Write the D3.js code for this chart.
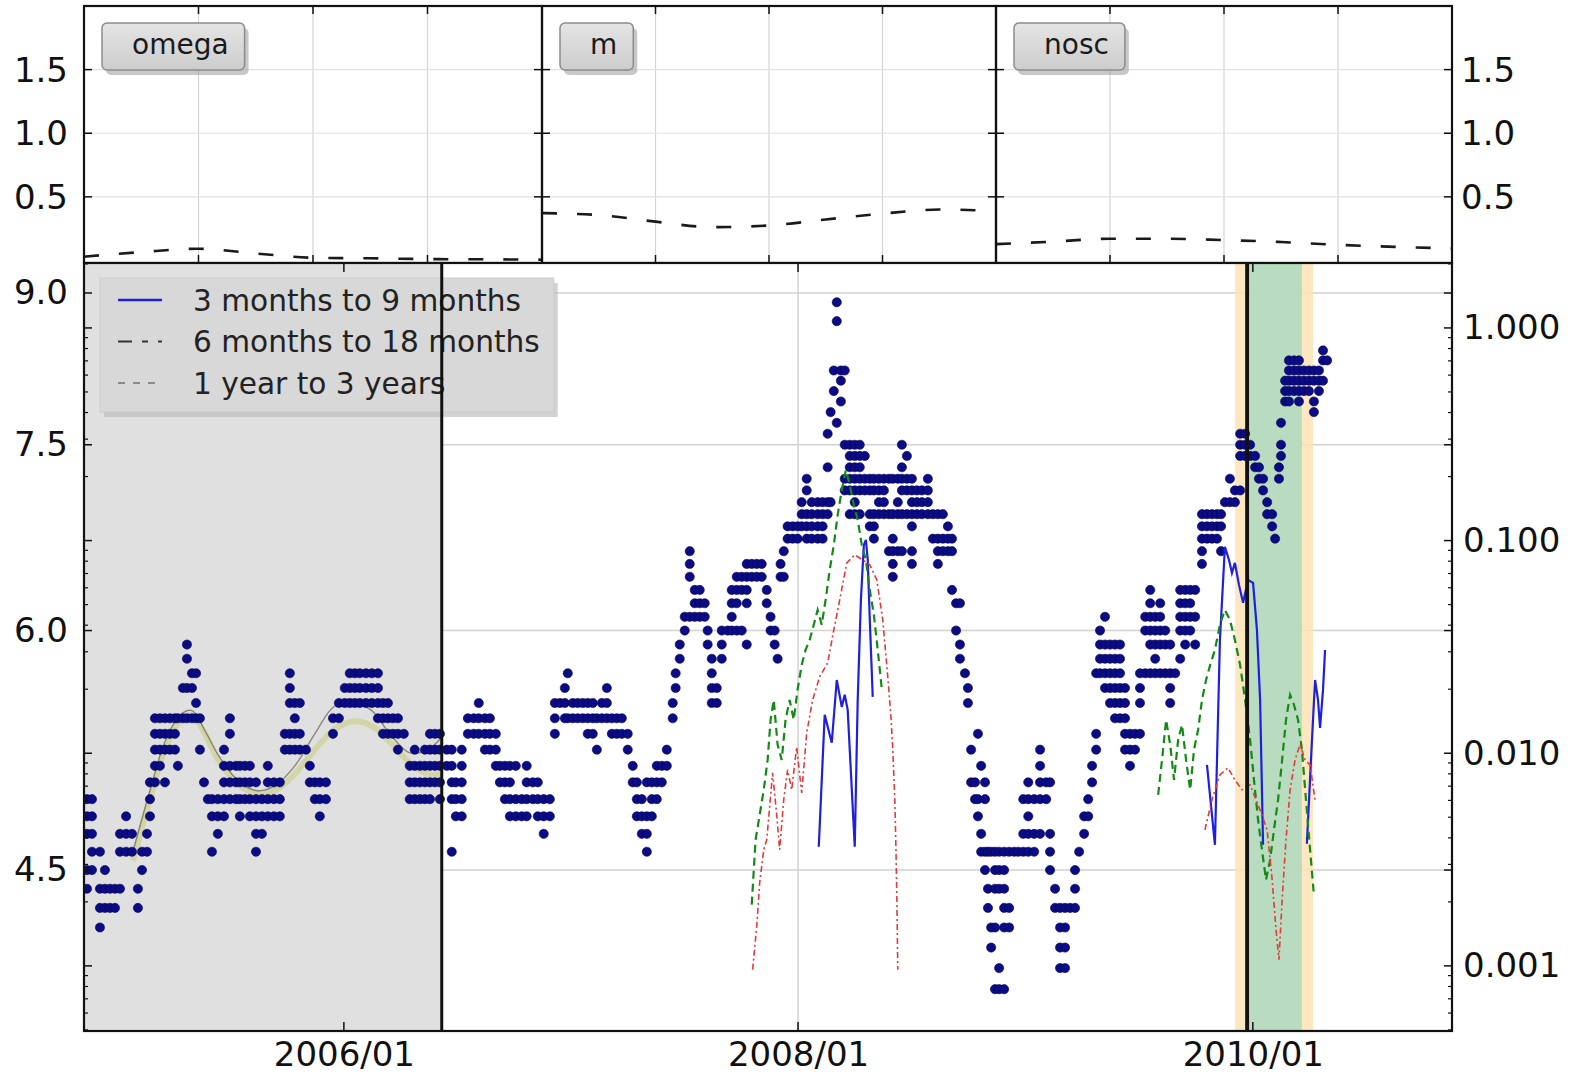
<!DOCTYPE html>
<html>
<head>
<meta charset="utf-8">
<script src="https://cdn.jsdelivr.net/npm/d3@7"></script>
<style>
  html, body { margin: 0; padding: 0; background: #ffffff; }
  svg { display: block; font-family: "DejaVu Sans", "Liberation Sans", sans-serif; }
</style>
</head>
<body>
<svg id="chart" width="1573" height="1077"></svg>
<script>
// ---------------- data ----------------
// small parameter panels (value sampled at nine even steps across each panel)
const panelNames = ["omega", "m", "nosc"];
const omegaValues = [0.030, 0.066, 0.092, 0.055, 0.021, 0.017, 0.011, 0.009, 0.006];
const mValues     = [0.372, 0.357, 0.305, 0.262, 0.275, 0.322, 0.368, 0.400, 0.390];
const noscValues  = [0.128, 0.148, 0.171, 0.171, 0.160, 0.145, 0.123, 0.107, 0.094];
const panelTicks  = [0.5, 1.0, 1.5];

// main panel axes
const xTickLabels = ["2006/01", "2008/01", "2010/01"];
const leftTicks   = [4.5, 6.0, 7.5, 9.0];
const rightTicks  = [0.001, 0.01, 0.1, 1.0];
const legendLabels = ["3 months to 9 months", "6 months to 18 months", "1 year to 3 years"];

// observations: [decimal year, values recorded around that time]
const dotColumns = [
  [2004.869,[4.9,4.8,4.7,4.5,4.4]],[2004.891,[4.9,4.8,4.7,4.6,4.5]],[2004.926,[4.6,4.4,4.3,4.2]],
  [2004.948,[4.5,4.4,4.3]],[2004.970,[4.4,4.3]],[2004.992,[4.4,4.3]],[2005.014,[4.7,4.6,4.4]],
  [2005.041,[4.8,4.7,4.6]],[2005.067,[4.7,4.6]],[2005.093,[4.4,4.3]],[2005.111,[4.6,4.5]],
  [2005.133,[4.7,4.6]],[2005.146,[5.0,4.9,4.8]],[2005.168,[5.4,5.3,5.2,5.1,5.0]],
  [2005.190,[5.4,5.3,5.2,5.1]],[2005.212,[5.4,5.3,5.2,5.0]],[2005.234,[5.4,5.3,5.2]],
  [2005.256,[5.4,5.3,5.2]],[2005.269,[5.4,5.1]],[2005.291,[5.6,5.4]],[2005.309,[5.9,5.8,5.6,5.4]],
  [2005.331,[5.7,5.6,5.4]],[2005.349,[5.7,5.5,5.4]],[2005.366,[5.4,5.2]],[2005.384,[5.0]],
  [2005.401,[4.9]],[2005.419,[4.9,4.8,4.6]],[2005.445,[4.9,4.8,4.7]],[2005.472,[5.2,5.1,5.0,4.9,4.8]],
  [2005.498,[5.4,5.3,5.1,5.0,4.9]],[2005.525,[5.1,5.0,4.9]],[2005.542,[5.1,5.0,4.9,4.8]],
  [2005.564,[5.1,5.0,4.9]],[2005.586,[5.1,5.0,4.9,4.8]],[2005.613,[5.0,4.9,4.8,4.7,4.6]],
  [2005.639,[4.9,4.8,4.7]],[2005.665,[5.1,5.0,4.9,4.8]],[2005.692,[5.0,4.9,4.8]],
  [2005.718,[5.0,4.9,4.8]],[2005.740,[5.3,5.2]],[2005.762,[5.7,5.6,5.5,5.3,5.2]],
  [2005.784,[5.5,5.4,5.3,5.2]],[2005.806,[5.5,5.3,5.2]],[2005.833,[5.2]],[2005.850,[5.1,5.0]],
  [2005.872,[5.0,4.9]],[2005.894,[5.0,4.9,4.8]],[2005.921,[5.0,4.9]],[2005.952,[5.4,5.3]],
  [2005.978,[5.5,5.4]],[2006.004,[5.6,5.5]],[2006.026,[5.7,5.6,5.5]],[2006.048,[5.7,5.6,5.5]],
  [2006.070,[5.7,5.6,5.5]],[2006.097,[5.7,5.6,5.5]],[2006.123,[5.7,5.6,5.5]],
  [2006.150,[5.7,5.6,5.5,5.4]],[2006.172,[5.5,5.4,5.3]],[2006.194,[5.5,5.4,5.3]],
  [2006.216,[5.4,5.3]],[2006.238,[5.4,5.3,5.2]],[2006.264,[5.3]],[2006.290,[5.1,5.0,4.9]],
  [2006.312,[5.2,5.1,5.0,4.9]],[2006.335,[5.1,5.0,4.9]],[2006.357,[5.2,5.1,5.0,4.9]],
  [2006.379,[5.3,5.2,5.1,5.0,4.9]],[2006.401,[5.3,5.2,5.1,5.0]],[2006.423,[5.3,5.2,5.1,5.0,4.9]],
  [2006.453,[5.2,5.1]],[2006.475,[5.2,5.1,5.0,4.9,4.6]],[2006.493,[5.0,4.9,4.8]],
  [2006.519,[5.2,5.1,5.0,4.9,4.8]],[2006.546,[5.4,5.3]],[2006.572,[5.4,5.3]],
  [2006.594,[5.5,5.4,5.3]],[2006.621,[5.4,5.3,5.2]],[2006.643,[5.4,5.3,5.2]],
  [2006.669,[5.3,5.2,5.1]],[2006.687,[5.1,5.0]],[2006.709,[5.1,5.0,4.9]],
  [2006.731,[5.1,5.0,4.9,4.8]],[2006.757,[5.1,4.9,4.8]],[2006.783,[4.9,4.8]],
  [2006.805,[5.1,5.0,4.9,4.8]],[2006.832,[5.0,4.9]],[2006.854,[5.0,4.9,4.8]],
  [2006.880,[4.9,4.8,4.7]],[2006.907,[4.9,4.8]],[2006.929,[5.5,5.4,5.3]],[2006.951,[5.5]],
  [2006.973,[5.6,5.5,5.4]],[2006.986,[5.7,5.4]],[2007.008,[5.5,5.4]],[2007.030,[5.5,5.4]],
  [2007.052,[5.5,5.4]],[2007.074,[5.5,5.4,5.3]],[2007.096,[5.5,5.4,5.3]],[2007.114,[5.4,5.2]],
  [2007.136,[5.5,5.4]],[2007.158,[5.6,5.5,5.4]],[2007.180,[5.4,5.3]],[2007.202,[5.4,5.3]],
  [2007.224,[5.4,5.3]],[2007.250,[5.3,5.2]],[2007.272,[5.1,5.0]],[2007.290,[5.0,4.9,4.8]],
  [2007.312,[4.9,4.8,4.7]],[2007.334,[5.0,4.8,4.7,4.6]],[2007.356,[5.0,4.9,4.8]],
  [2007.378,[5.1,5.0,4.9]],[2007.400,[5.1,5.0]],[2007.422,[5.2,5.1]],[2007.448,[5.5,5.4]],
  [2007.461,[5.7,5.6]],[2007.479,[5.9,5.8]],[2007.501,[6.1,6.0]],[2007.523,[6.6,6.5,6.4,6.1]],
  [2007.545,[6.3,6.2,6.1]],[2007.567,[6.3,6.2,6.1]],[2007.589,[6.2,6.1]],[2007.602,[6.0,5.9]],
  [2007.620,[5.8,5.7,5.6,5.5]],[2007.642,[5.6,5.5]],[2007.664,[6.0,5.9,5.8]],[2007.690,[6.0]],
  [2007.708,[6.3,6.2,6.1,6.0]],[2007.730,[6.4,6.3,6.2,6.0]],[2007.752,[6.4,6.3,6.0]],
  [2007.774,[6.5,6.4,6.3,6.2,5.9]],[2007.796,[6.5,6.4]],[2007.818,[6.5,6.4]],[2007.840,[6.5,6.4]],
  [2007.862,[6.3,6.2]],[2007.879,[6.1,6.0]],[2007.897,[6.0,5.9]],[2007.910,[5.8]],
  [2007.923,[6.5,6.4]],[2007.937,[6.6,6.4]],[2007.954,[6.8,6.7]],[2007.976,[6.8,6.7]],
  [2007.998,[6.8,6.7]],[2008.016,[7.0,6.9,6.8]],[2008.038,[7.2,7.1,6.9,6.8,6.7]],
  [2008.060,[7.0,6.9,6.8,6.7]],[2008.086,[7.0,6.9,6.8,6.7]],[2008.108,[7.0,6.9,6.8,6.7]],
  [2008.130,[7.6,7.3,7.0,6.9]],[2008.143,[7.8,7.0]],[2008.157,[8.2,8.0]],[2008.170,[8.9,8.7,7.7]],
  [2008.188,[8.2,8.1,7.9]],[2008.205,[8.2,7.5,7.2,7.1]],[2008.227,[7.5,7.4,7.3,7.2,7.1,6.9]],
  [2008.249,[7.5,7.4,7.3,7.2,7.1,7.0,6.9]],[2008.271,[7.5,7.4,7.3,7.2,7.1,6.9]],
  [2008.293,[7.4,7.2,7.1]],[2008.315,[7.2,7.1,6.9,6.8]],[2008.333,[7.2,7.1,6.9,6.8,6.7]],
  [2008.355,[7.2,7.1,7.0,6.9]],[2008.377,[7.2,7.1,7.0,6.9]],[2008.399,[7.2,6.9,6.6]],
  [2008.416,[7.2,6.9,6.7,6.6,6.5,6.4]],[2008.438,[7.2,7.0,6.9,6.6]],
  [2008.456,[7.5,7.3,7.2,7.1,6.9,6.6]],[2008.478,[7.4,7.2,7.1,6.9]],
  [2008.500,[7.2,7.1,7.0,6.9,6.8,6.6,6.5]],[2008.522,[7.1,7.0,6.9]],[2008.544,[7.1,7.0,6.9]],
  [2008.570,[7.2,7.1,7.0,6.9]],[2008.592,[6.9,6.7]],[2008.614,[6.9,6.7,6.6,6.5]],
  [2008.636,[6.9,6.7,6.6]],[2008.658,[6.8,6.7,6.6]],[2008.676,[6.7,6.6,6.3]],[2008.694,[6.2,6.0]],
  [2008.711,[6.2,5.9,5.8]],[2008.733,[5.7]],[2008.746,[5.6,5.5]],[2008.760,[5.2,5.0]],
  [2008.777,[5.0,4.9]],[2008.790,[5.3,4.9,4.8]],[2008.804,[5.1,4.7,4.6]],[2008.821,[5.0,4.9,4.6,4.5]],
  [2008.834,[4.6,4.4,4.3]],[2008.848,[4.6,4.2,4.1]],[2008.865,[4.6,4.5,4.4,4.2,3.9]],
  [2008.883,[4.6,4.5,4.4,4.0,3.9]],[2008.905,[4.6,4.5,4.4,4.3,4.2,3.9]],[2008.927,[4.6,4.3,4.2]],
  [2008.949,[4.6]],[2008.967,[4.6]],[2008.989,[4.9,4.7,4.6]],[2009.011,[5.0,4.9,4.8,4.7,4.6]],
  [2009.037,[4.9,4.7,4.6]],[2009.063,[5.2,5.1,5.0,4.9,4.7]],[2009.090,[5.0,4.9]],
  [2009.107,[5.0,4.7,4.6,4.5]],[2009.129,[4.4,4.3]],[2009.151,[4.3,4.2,4.1,4.0]],
  [2009.173,[4.3,4.2,4.1,4.0]],[2009.195,[4.3]],[2009.217,[4.5,4.4,4.3]],[2009.235,[4.6]],
  [2009.257,[4.8,4.7]],[2009.275,[4.9,4.8]],[2009.292,[5.1,5.0]],[2009.310,[5.7,5.3,5.2]],
  [2009.327,[6.0,5.9,5.8,5.7]],[2009.349,[6.1,5.9,5.8,5.7,5.6]],[2009.371,[5.9,5.8,5.7,5.6,5.5]],
  [2009.393,[5.9,5.8,5.7,5.6,5.5,5.4]],[2009.415,[5.9,5.8,5.7,5.6,5.5,5.4]],
  [2009.437,[5.6,5.5,5.4,5.3,5.2]],[2009.459,[5.3,5.2,5.1]],[2009.481,[5.3,5.2]],
  [2009.503,[5.7,5.6,5.5,5.3]],[2009.526,[6.1,6.0,5.7]],[2009.548,[6.3,6.2,6.1,6.0,5.9,5.7]],
  [2009.570,[6.1,6.0,5.9,5.8,5.7]],[2009.592,[6.2,6.1,6.0,5.9,5.7]],[2009.614,[6.0,5.9,5.7]],
  [2009.636,[5.9,5.7,5.6,5.5]],[2009.658,[5.7]],[2009.680,[6.3,6.2,6.1,6.0,5.8]],
  [2009.702,[6.3,6.2,6.1,6.0,5.9]],[2009.724,[6.3,6.2,6.1,6.0]],[2009.746,[6.3,6.1,5.9]],
  [2009.776,[6.9,6.8,6.7,6.6,6.5]],[2009.798,[6.9,6.8,6.7]],[2009.820,[6.9,6.8,6.7]],
  [2009.842,[6.9,6.8,6.7]],[2009.860,[6.9,6.8,6.6]],[2009.877,[7.0]],[2009.899,[7.2,7.0]],
  [2009.921,[7.1,7.0]],[2009.944,[7.6,7.5,7.4,7.1]],[2009.966,[7.6,7.5,7.4]],[2009.988,[7.5,7.4]],
  [2010.010,[7.4,7.3]],[2010.027,[7.3,7.2]],[2010.045,[7.2,7.1]],[2010.063,[7.0,6.9]],
  [2010.085,[6.9,6.8]],[2010.098,[6.7]],[2010.115,[7.3,7.2]],[2010.124,[7.7,7.5,7.4]],
  [2010.142,[8.1,8.0,7.9]],[2010.159,[8.3,8.2,8.1,8.0,7.9]],[2010.181,[8.3,8.2,8.1,8.0]],
  [2010.203,[8.3,8.2,8.1,8.0,7.9]],[2010.225,[8.2,8.1,8.0]],[2010.247,[8.2,8.1,8.0]],
  [2010.269,[8.2,8.1,7.9,7.8]],[2010.291,[8.2,8.1,8.0]],[2010.309,[8.4,8.3,8.1]],[2010.327,[8.3]]
];

// smoothed trend over the reference period (left scale)
const trendYears = [2005.071,2005.146,2005.212,2005.278,2005.331,2005.388,2005.454,2005.542,2005.621,
  2005.696,2005.784,2005.872,2005.960,2006.048,2006.123,2006.202,2006.290,2006.370,2006.431];
const trendWide = [4.55,4.90,5.20,5.38,5.42,5.30,5.12,4.98,4.93,4.95,5.05,5.20,5.33,5.38,5.35,5.25,5.12,5.05,5.05];
const trendThin = [4.60,4.95,5.25,5.42,5.45,5.32,5.15,5.00,4.95,4.98,5.10,5.30,5.48,5.50,5.45,5.30,5.18,5.20,5.28];

// band power, 3 to 9 months (right scale), separate runs
const shortBand = [
  [[2008.091,0.00363],[2008.117,0.01515],[2008.148,0.0112],[2008.170,0.0221],[2008.192,0.01652],
   [2008.205,0.01882],[2008.218,0.0160],[2008.249,0.00363],[2008.262,0.0178],[2008.276,0.0526],
   [2008.289,0.0954],[2008.298,0.1008],[2008.306,0.0811],[2008.315,0.0424],[2008.328,0.0184]],
  [[2009.798,0.00882],[2009.833,0.00371],[2009.855,0.0341],[2009.877,0.0934],[2009.895,0.0811],
   [2009.908,0.0705],[2009.921,0.0785],[2009.939,0.0619],[2009.957,0.0510],[2009.979,0.0653],
   [2010.001,0.0633],[2010.018,0.0380],[2010.032,0.0178],[2010.045,0.00371]],
  [[2010.238,0.00375],[2010.256,0.0093],[2010.274,0.0221],[2010.287,0.0178],[2010.296,0.01317],
   [2010.309,0.0199],[2010.318,0.0306]]
];
// band power, 6 to 18 months
const midBand = [
  [[2007.796,0.00194],[2007.813,0.00392],[2007.831,0.00513],[2007.849,0.00673],[2007.866,0.0093],
   [2007.879,0.01436],[2007.893,0.0178],[2007.910,0.01095],[2007.928,0.0093],[2007.945,0.01436],
   [2007.963,0.0178],[2007.981,0.01436],[2007.998,0.0199],[2008.016,0.026],[2008.033,0.0306],
   [2008.051,0.0341],[2008.069,0.0402],[2008.086,0.0472],[2008.104,0.0402],[2008.121,0.0526],
   [2008.139,0.0728],[2008.157,0.0954],[2008.174,0.132],[2008.192,0.173],[2008.210,0.215],
   [2008.227,0.183],[2008.245,0.147],[2008.262,0.125],[2008.280,0.0954],[2008.298,0.0811],
   [2008.315,0.0587],[2008.333,0.0447],[2008.350,0.0306],[2008.368,0.0199]],
  [[2009.583,0.00637],[2009.600,0.0093],[2009.618,0.01436],[2009.636,0.01095],[2009.653,0.0075],
   [2009.671,0.01156],[2009.688,0.0136],[2009.706,0.0093],[2009.724,0.00673],[2009.741,0.0104],
   [2009.759,0.0129],[2009.776,0.0178],[2009.794,0.0221],[2009.812,0.026],[2009.833,0.0306],
   [2009.855,0.0402],[2009.877,0.0472],[2009.899,0.0424],[2009.921,0.0341],[2009.944,0.026],
   [2009.966,0.0178],[2009.988,0.01156],[2010.005,0.0075],[2010.023,0.00486],[2010.040,0.00352],
   [2010.058,0.00254],[2010.076,0.00315],[2010.093,0.00436],[2010.111,0.00604],[2010.129,0.0093],
   [2010.146,0.01436],[2010.164,0.01882],[2010.181,0.0169],[2010.199,0.01436],[2010.216,0.0104],
   [2010.234,0.00604],[2010.252,0.00352],[2010.269,0.00216]]
];
// band power, 1 to 3 years
const longBand = [
  [[2007.800,0.00096],[2007.818,0.00153],[2007.831,0.00246],[2007.849,0.00352],[2007.862,0.00392],
   [2007.875,0.0056],[2007.888,0.00809],[2007.906,0.00513],[2007.919,0.00352],[2007.937,0.00604],
   [2007.954,0.00836],[2007.972,0.00673],[2007.994,0.0107],[2008.016,0.00651],[2008.038,0.01247],
   [2008.064,0.0178],[2008.095,0.0229],[2008.130,0.0266],[2008.157,0.038],[2008.183,0.0526],
   [2008.214,0.0785],[2008.249,0.0857],[2008.284,0.0811],[2008.315,0.0769],[2008.346,0.0653],
   [2008.372,0.0424],[2008.394,0.0229],[2008.408,0.01483],[2008.416,0.01037],[2008.425,0.00604],
   [2008.430,0.00352],[2008.434,0.00205],[2008.438,0.00096]],
  [[2009.789,0.00436],[2009.820,0.00604],[2009.855,0.00791],[2009.890,0.00854],[2009.921,0.0075],
   [2009.952,0.00673],[2009.988,0.0071],[2010.014,0.00604],[2010.040,0.00513],[2010.063,0.00436],
   [2010.085,0.00254],[2010.102,0.00148],[2010.115,0.00107],[2010.129,0.00205],[2010.146,0.00392],
   [2010.164,0.00673],[2010.186,0.0093],[2010.208,0.0110],[2010.230,0.0093],[2010.252,0.00882],
   [2010.274,0.00604]]
];

// marked periods (decimal years)
const referencePeriod = [2004.856, 2006.431];
const alertWindow = [2009.922, 2010.265];
const eventWindow = [2009.988, 2010.216];
const markerYears = [2006.431, 2009.975];

// ---------------- layout & scales ----------------
const svg = d3.select("#chart");
const L = 84, R = 1452, T0 = 6, T1 = 263, B = 1031;
const panelEdges = [84, 542, 996, 1452];
const tickFont = 34;
const legendFont = 29.6;

function yearToDate(t) {
  const y = Math.floor(t);
  const a = Date.UTC(y, 0, 1), b = Date.UTC(y + 1, 0, 1);
  return new Date(a + (t - y) * (b - a));
}
const parseTick = d3.utcParse("%Y/%m");

const x = d3.scaleUtc().domain([yearToDate(2004.856), yearToDate(2010.877)]).range([L, R]);
const yLeft = d3.scaleLog().domain([3.709, 9.33]).range([B, T1]);
const yRight = d3.scaleLog().domain([0.000494, 2.02]).range([B, T1]);
const yPanel = d3.scaleLinear().domain([-0.02, 2.0]).range([T1, T0]);

svg.append("rect").attr("width", 1573).attr("height", 1077).attr("fill", "#ffffff");

const defs = svg.append("defs");
defs.append("clipPath").attr("id", "mainClip")
  .append("rect").attr("x", L).attr("y", T1).attr("width", R - L).attr("height", B - T1);
const grad = defs.append("linearGradient").attr("id", "boxGrad").attr("x1", 0).attr("y1", 0).attr("x2", 0).attr("y2", 1);
grad.append("stop").attr("offset", "0%").attr("stop-color", "#e4e4e4");
grad.append("stop").attr("offset", "100%").attr("stop-color", "#cdcdcd");

// ---------------- top panels ----------------
const panelSeries = [omegaValues, mValues, noscValues];
panelNames.forEach((name, i) => {
  const x0 = panelEdges[i], x1 = panelEdges[i + 1];
  const px = d3.scaleLinear().domain([0, panelSeries[i].length - 1]).range([x0, x1]);
  const qx = d3.scaleLinear().domain([0, 4]).range([x0, x1]);
  const g = svg.append("g");
  // grid
  g.selectAll(".vg").data([1, 2, 3]).join("line")
    .attr("x1", d => qx(d)).attr("x2", d => qx(d)).attr("y1", T0).attr("y2", T1)
    .attr("stroke", "#d4d4d4").attr("stroke-width", 1.2);
  g.selectAll(".hg").data(panelTicks).join("line")
    .attr("x1", x0).attr("x2", x1).attr("y1", d => yPanel(d)).attr("y2", d => yPanel(d))
    .attr("stroke", "#e2e2e2").attr("stroke-width", 1.2);
  // series
  g.append("path").datum(panelSeries[i])
    .attr("d", d3.line().x((d, k) => px(k)).y(d => yPanel(d)).curve(d3.curveMonotoneX))
    .attr("fill", "none").attr("stroke", "#1a1a1a").attr("stroke-width", 2.6)
    .attr("stroke-dasharray", "15,20");
  // ticks on both sides, pointing inward
  panelTicks.forEach(v => {
    g.append("line").attr("x1", x0).attr("x2", x0 + 8).attr("y1", yPanel(v)).attr("y2", yPanel(v)).attr("stroke", "#111").attr("stroke-width", 1.5);
    g.append("line").attr("x1", x1 - 8).attr("x2", x1).attr("y1", yPanel(v)).attr("y2", yPanel(v)).attr("stroke", "#111").attr("stroke-width", 1.5);
  });
  [1, 2, 3].forEach(q => {
    g.append("line").attr("x1", qx(q)).attr("x2", qx(q)).attr("y1", T0).attr("y2", T0 + 8).attr("stroke", "#111").attr("stroke-width", 1.5);
    g.append("line").attr("x1", qx(q)).attr("x2", qx(q)).attr("y1", T1 - 8).attr("y2", T1).attr("stroke", "#111").attr("stroke-width", 1.5);
  });
  g.append("rect").attr("x", x0).attr("y", T0).attr("width", x1 - x0).attr("height", T1 - T0)
    .attr("fill", "none").attr("stroke", "#111").attr("stroke-width", 2.2);
  // name box
  const bx = x0 + 18, by = 23, bh = 47;
  const lg = g.append("g");
  const shadow = lg.append("rect").attr("x", bx + 4).attr("y", by + 5).attr("height", bh).attr("rx", 5)
    .attr("fill", "#9a9a9a").attr("opacity", 0.55);
  const box = lg.append("rect").attr("x", bx).attr("y", by).attr("height", bh).attr("rx", 5)
    .attr("fill", "url(#boxGrad)").attr("stroke", "#8c8c8c").attr("stroke-width", 1.5);
  const txt = lg.append("text").attr("x", bx + 30).attr("y", by + 31).attr("font-size", 28)
    .attr("fill", "#1a1a1a").text(name);
  const w = txt.node().getComputedTextLength() + 46;
  box.attr("width", w); shadow.attr("width", w);
});

// panel y labels (left of first, right of last)
panelTicks.forEach(v => {
  svg.append("text").attr("x", 68).attr("y", yPanel(v)).attr("dy", "0.36em").attr("text-anchor", "end")
    .attr("font-size", tickFont).attr("fill", "#111").text(v.toFixed(1));
  svg.append("text").attr("x", 1461).attr("y", yPanel(v)).attr("dy", "0.36em")
    .attr("font-size", tickFont).attr("fill", "#111").text(v.toFixed(1));
});

// ---------------- main panel ----------------
const main = svg.append("g");
const clip = main.append("g").attr("clip-path", "url(#mainClip)");
clip.append("rect").attr("x", L).attr("y", T1).attr("width", R - L).attr("height", B - T1).attr("fill", "#ffffff");

const xTickDates = xTickLabels.map(parseTick);
// grid
clip.selectAll(".hgrid").data(leftTicks).join("line")
  .attr("x1", L).attr("x2", R).attr("y1", d => yLeft(d)).attr("y2", d => yLeft(d))
  .attr("stroke", "#d2d2d2").attr("stroke-width", 1.5);
clip.selectAll(".vgrid").data(xTickDates).join("line")
  .attr("x1", d => x(d)).attr("x2", d => x(d)).attr("y1", T1).attr("y2", B)
  .attr("stroke", "#d2d2d2").attr("stroke-width", 1.5);

// shaded periods
clip.append("rect").attr("x", x(yearToDate(referencePeriod[0]))).attr("y", T1)
  .attr("width", x(yearToDate(referencePeriod[1])) - x(yearToDate(referencePeriod[0])))
  .attr("height", B - T1).attr("fill", "#e0e0e0");
clip.append("rect").attr("x", x(yearToDate(alertWindow[0]))).attr("y", T1)
  .attr("width", x(yearToDate(alertWindow[1])) - x(yearToDate(alertWindow[0])))
  .attr("height", B - T1).attr("fill", "#fbe3b6").attr("opacity", 0.85);
clip.append("rect").attr("x", x(yearToDate(eventWindow[0]))).attr("y", T1)
  .attr("width", x(yearToDate(eventWindow[1])) - x(yearToDate(eventWindow[0])))
  .attr("height", B - T1).attr("fill", "#b9dcc1");

// trend curves
const trendLine = vals => d3.line().x((d, k) => x(yearToDate(trendYears[k]))).y(d => yLeft(d)).curve(d3.curveCatmullRom)(vals);
clip.append("path").attr("d", trendLine(trendWide)).attr("fill", "none")
  .attr("stroke", "#cfd29a").attr("stroke-width", 6).attr("opacity", 0.8);
clip.append("path").attr("d", trendLine(trendThin)).attr("fill", "none")
  .attr("stroke", "#707060").attr("stroke-width", 1.4).attr("opacity", 0.8);

// observations
const dots = dotColumns.flatMap(([t, vals]) => vals.map(v => ({ t, v })));
clip.selectAll(".dot").data(dots).join("circle")
  .attr("cx", d => x(yearToDate(d.t))).attr("cy", d => yLeft(d.v)).attr("r", 4.6)
  .attr("fill", "#0b0b86").attr("stroke", "#05054f").attr("stroke-width", 0.6);

// band power lines
const bandLine = d3.line().x(d => x(yearToDate(d[0]))).y(d => yRight(d[1]));
const bandStyles = [
  { runs: shortBand, color: "#1f1fe0", width: 2.2, dash: null },
  { runs: midBand, color: "#138a13", width: 2.2, dash: "8,5" },
  { runs: longBand, color: "#e23b3b", width: 1.6, dash: "6,3,2,3" }
];
bandStyles.forEach(s => {
  s.runs.forEach(run => {
    clip.append("path").attr("d", bandLine(run)).attr("fill", "none")
      .attr("stroke", s.color).attr("stroke-width", s.width)
      .attr("stroke-dasharray", s.dash);
  });
});

// legend
const lgX = 100, lgY = 278, lgH = 134;
const lgShadow = main.append("rect").attr("x", lgX + 4).attr("y", lgY + 5).attr("height", lgH).attr("fill", "#b5b5b5").attr("opacity", 0.6);
const lgBox = main.append("rect").attr("x", lgX).attr("y", lgY).attr("height", lgH).attr("fill", "#d8d8d8").attr("stroke", "#cbcbcb");
const legendSamples = [
  { color: "#1f1fe0", dash: null, width: 2.5 },
  { color: "#333333", dash: "14,10,6,10", width: 2 },
  { color: "#8a8a8a", dash: "7,8", width: 2 }
];
let maxLen = 0;
legendLabels.forEach((lab, i) => {
  const cy = 300 + i * 41.5;
  main.append("line").attr("x1", 118).attr("x2", 162).attr("y1", cy).attr("y2", cy)
    .attr("stroke", legendSamples[i].color).attr("stroke-width", legendSamples[i].width)
    .attr("stroke-dasharray", legendSamples[i].dash);
  const t = main.append("text").attr("x", 193).attr("y", cy).attr("dy", "0.36em")
    .attr("font-size", legendFont).attr("fill", "#222").text(lab);
  maxLen = Math.max(maxLen, t.node().getComputedTextLength());
});
lgBox.attr("width", 193 + maxLen + 14 - lgX);
lgShadow.attr("width", 193 + maxLen + 14 - lgX);

// period markers
markerYears.forEach((t, i) => {
  main.append("line").attr("x1", x(yearToDate(t))).attr("x2", x(yearToDate(t))).attr("y1", T1).attr("y2", B)
    .attr("stroke", "#111").attr("stroke-width", i === 0 ? 3 : 4);
});

// ticks (inward) on both vertical borders
const rightMinor = [];
[0.0001, 0.001, 0.01, 0.1, 1].forEach(dec => {
  for (let k = 2; k <= 9; k++) rightMinor.push(dec * k);
});
const inRange = (s, v) => v >= s.domain()[0] && v <= s.domain()[1];
[L, R].forEach(edge => {
  const dir = edge === L ? 1 : -1;
  rightMinor.filter(v => inRange(yRight, v)).forEach(v => {
    main.append("line").attr("x1", edge).attr("x2", edge + dir * 4).attr("y1", yRight(v)).attr("y2", yRight(v))
      .attr("stroke", "#111").attr("stroke-width", 1.2);
  });
  rightTicks.forEach(v => {
    main.append("line").attr("x1", edge).attr("x2", edge + dir * 8).attr("y1", yRight(v)).attr("y2", yRight(v))
      .attr("stroke", "#111").attr("stroke-width", 1.5);
  });
  leftTicks.forEach(v => {
    main.append("line").attr("x1", edge).attr("x2", edge + dir * 8).attr("y1", yLeft(v)).attr("y2", yLeft(v))
      .attr("stroke", "#111").attr("stroke-width", 1.5);
  });
});
xTickDates.forEach(d => {
  main.append("line").attr("x1", x(d)).attr("x2", x(d)).attr("y1", B).attr("y2", B - 9).attr("stroke", "#111").attr("stroke-width", 1.5);
  main.append("line").attr("x1", x(d)).attr("x2", x(d)).attr("y1", T1).attr("y2", T1 + 9).attr("stroke", "#111").attr("stroke-width", 1.5);
});

main.append("rect").attr("x", L).attr("y", T1).attr("width", R - L).attr("height", B - T1)
  .attr("fill", "none").attr("stroke", "#111").attr("stroke-width", 2.2);

// axis labels
const leftAxis = d3.axisLeft(yLeft).tickValues(leftTicks).tickFormat(d3.format(".1f")).tickSize(0).tickPadding(16);
const rightAxis = d3.axisRight(yRight).tickValues(rightTicks).tickFormat(d3.format(".3f")).tickSize(0).tickPadding(11);
const bottomAxis = d3.axisBottom(x).tickValues(xTickDates).tickFormat(d3.utcFormat("%Y/%m")).tickSize(0).tickPadding(11);
[
  svg.append("g").attr("transform", `translate(${L},0)`).call(leftAxis),
  svg.append("g").attr("transform", `translate(${R},0)`).call(rightAxis),
  svg.append("g").attr("transform", `translate(0,${B})`).call(bottomAxis)
].forEach(g => {
  g.select(".domain").remove();
  g.selectAll("text").attr("font-size", tickFont).attr("fill", "#111").attr("font-family", "DejaVu Sans, sans-serif");
});
</script>
</body>
</html>
